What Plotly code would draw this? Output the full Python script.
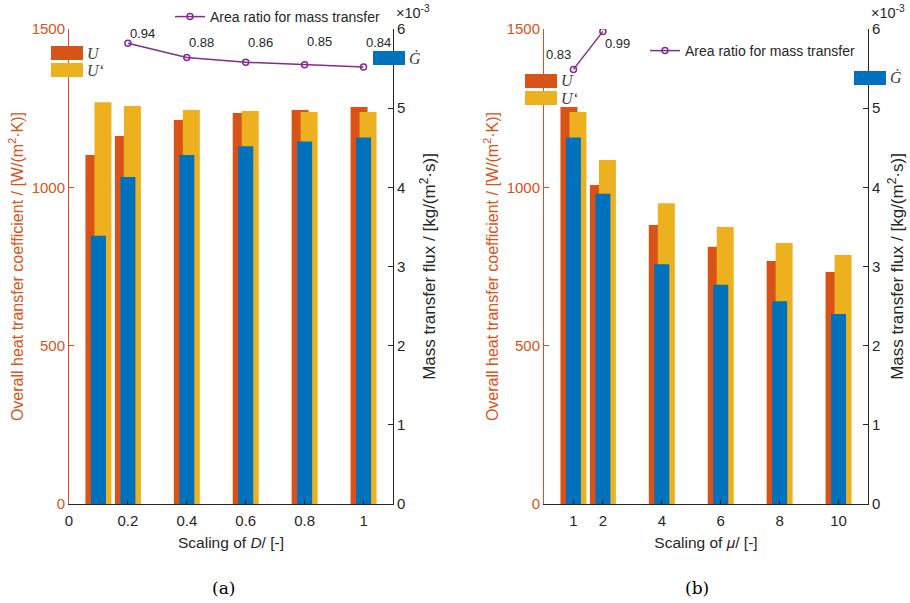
import plotly.graph_objects as go

# (a) scaling of the diffusion coefficient D
scale_d = [0.1, 0.2, 0.4, 0.6, 0.8, 1.0]
u_d = [1102, 1162, 1213, 1235, 1244, 1254]
u_prime_d = [1269, 1257, 1244, 1241, 1238, 1238]
g_d = [3.39e-3, 4.13e-3, 4.41e-3, 4.52e-3, 4.58e-3, 4.63e-3]
ratio_x_d = [0.2, 0.4, 0.6, 0.8, 1.0]
ratio_d = [0.94, 0.88, 0.86, 0.85, 0.84]

# (b) scaling of the viscosity mu
scale_mu = [1, 2, 4, 6, 8, 10]
u_mu = [1254, 1007, 881, 812, 767, 733]
u_prime_mu = [1238, 1086, 950, 875, 824, 786]
g_mu = [4.63e-3, 3.92e-3, 3.03e-3, 2.77e-3, 2.56e-3, 2.40e-3]
ratio_x_mu = [1, 2]
ratio_mu = [0.83, 0.99]

ticks_d = [0, 0.2, 0.4, 0.6, 0.8, 1]
ticks_mu = [1, 2, 4, 6, 8, 10]

ORANGE = "#D95319"
YELLOW = "#EDB120"
BLUE = "#0072BD"
PURPLE = "#7E2F8E"
DARK = "#262626"
FONT = "Liberation Sans"

W, H = 910, 603


def px(x):
    return x / W


def py(y):
    return 1 - y / H


fig = go.Figure()

panels = [
    dict(x="x", y="y", y2="y2", y3="y3", left=69, right=393, xr=[0, 1.1],
         xs=scale_d, u=u_d, up=u_prime_d, g=g_d, rx=ratio_x_d, r=ratio_d,
         legend="legend", ticks=ticks_d, xtitle="Scaling of <i>D</i>/ [-]",
         rstand=18),
    dict(x="x2", y="y4", y2="y5", y3="y6", left=544, right=868, xr=[0, 11],
         xs=scale_mu, u=u_mu, up=u_prime_mu, g=g_mu, rx=ratio_x_mu, r=ratio_mu,
         legend="legend2", ticks=ticks_mu, xtitle="Scaling of <i>μ</i>/ [-]",
         rstand=11),
]

for p in panels:
    k = (p["xr"][1] - p["xr"][0]) / (p["right"] - p["left"])  # data units per px
    wu = 17 * k
    wg = 15 * k
    sh = 4.5 * k
    fig.add_trace(go.Bar(x=p["xs"], y=p["u"], width=wu, offset=-wu / 2 - sh,
                         marker=dict(color=ORANGE, line=dict(width=0)),
                         xaxis=p["x"], yaxis=p["y"], showlegend=False))
    fig.add_trace(go.Bar(x=p["xs"], y=p["up"], width=wu, offset=-wu / 2 + sh,
                         marker=dict(color=YELLOW, line=dict(width=0)),
                         xaxis=p["x"], yaxis=p["y"], showlegend=False))
    fig.add_trace(go.Bar(x=p["xs"], y=p["g"], width=wg, offset=-wg / 2,
                         marker=dict(color=BLUE, line=dict(width=0)),
                         xaxis=p["x"], yaxis=p["y2"], showlegend=False))
    fig.add_trace(go.Scatter(x=p["rx"], y=p["r"], mode="lines+markers",
                             name="Area ratio for mass transfer",
                             line=dict(color=PURPLE, width=1.5),
                             marker=dict(symbol="circle-open", size=6,
                                         color=PURPLE, line=dict(width=1.5)),
                             xaxis=p["x"], yaxis=p["y3"], legend=p["legend"]))

layout = dict(
    width=W, height=H,
    margin=dict(l=0, r=0, t=0, b=0, autoexpand=False),
    plot_bgcolor="white", paper_bgcolor="white",
    barmode="overlay",
    font=dict(family=FONT, size=14, color=DARK),
)

ydom = [py(504), py(29)]
for i, p in enumerate(panels):
    xa = "xaxis" if i == 0 else "xaxis2"
    ya1 = "yaxis" if i == 0 else "yaxis4"
    ya2 = "yaxis2" if i == 0 else "yaxis5"
    ya3 = "yaxis3" if i == 0 else "yaxis6"
    layout[xa] = dict(
        domain=[px(p["left"]), px(p["right"])], range=p["xr"], anchor=p["y"],
        tickvals=p["ticks"], ticktext=[f"{t:g}" for t in p["ticks"]],
        ticks="inside", ticklen=4, tickcolor=DARK, showline=True, linecolor=DARK,
        linewidth=1, showgrid=False, zeroline=False, automargin=False,
        ticklabelstandoff=3,
        tickfont=dict(size=15, color=DARK),
        title=dict(text=p["xtitle"], font=dict(size=15.5, color=DARK), standoff=9),
    )
    layout[ya1] = dict(
        domain=ydom, range=[0, 1500], anchor=p["x"], tickvals=[0, 500, 1000, 1500],
        ticks="inside", ticklen=5, tickcolor=ORANGE, showline=True, linecolor=ORANGE,
        linewidth=1, showgrid=False, zeroline=False, automargin=False,
        tickfont=dict(size=15, color=ORANGE),
        title=dict(text="Overall heat transfer coefficient / [W/(m<sup>2</sup>·K)]",
                   font=dict(size=16, color=ORANGE), standoff=4),
    )
    layout[ya2] = dict(
        overlaying=p["y"], side="right", anchor=p["x"], range=[0, 6e-3],
        tickvals=[j * 1e-3 for j in range(7)], ticktext=[str(j) for j in range(7)],
        ticks="inside", ticklen=5, tickcolor=DARK, showline=True, linecolor=DARK,
        linewidth=1, showgrid=False, zeroline=False, automargin=False,
        tickfont=dict(size=15, color=DARK),
        title=dict(text="Mass transfer flux / [kg/(m<sup>2</sup>·s)]",
                   font=dict(size=17, color=DARK), standoff=p["rstand"]),
    )
    layout[ya3] = dict(overlaying=p["y"], anchor=p["x"], range=[-1, 1], visible=False)

layout["legend"] = dict(x=px(170), y=py(17), xanchor="left", yanchor="middle",
                        bgcolor="rgba(0,0,0,0)", font=dict(size=14, color=DARK),
                        itemwidth=30)
layout["legend2"] = dict(x=px(645), y=py(51), xanchor="left", yanchor="middle",
                         bgcolor="rgba(0,0,0,0)", font=dict(size=14, color=DARK),
                         itemwidth=30)
fig.update_layout(**layout)

# ratio value labels
label_style = [
    [("left", 10), ("left", 15), ("left", 20), ("left", 23), ("left", 25)],
    [("right", 15), ("left", -12)],
]
for p, styles in zip(panels, label_style):
    for xv, rv, (anchor, dy) in zip(p["rx"], p["r"], styles):
        fig.add_annotation(x=xv, y=rv, xref=p["x"], yref=p["y3"], text=f"{rv:.2f}",
                           showarrow=False, xanchor=anchor, yanchor="middle",
                           yshift=dy, font=dict(size=13, color=DARK))

# legend keys for bars (U, U', G-dot)
keys = [
    (51, 46, ORANGE, "U"), (51, 63, YELLOW, "U‘"), (373, 51, BLUE, "Ġ"),
    (525, 74, ORANGE, "U"), (525, 91, YELLOW, "U‘"), (854, 71, BLUE, "Ġ"),
]
for kx, ky, col, lab in keys:
    fig.add_shape(type="rect", xref="paper", yref="paper",
                  x0=px(kx), x1=px(kx + 32), y0=py(ky + 14), y1=py(ky),
                  fillcolor=col, line=dict(width=0), layer="above")
    fig.add_annotation(x=px(kx + 34), y=py(ky + 7), xref="paper", yref="paper",
                       text=f"<i>{lab}</i>", showarrow=False, xanchor="left",
                       yanchor="middle",
                       font=dict(family="Liberation Serif", size=16, color="#404040"))

# exponent labels and panel captions
for ex in (394, 869):
    fig.add_annotation(x=px(ex), y=py(1), xref="paper", yref="paper",
                       text="×10<sup>-3</sup>", showarrow=False, xanchor="left",
                       yanchor="top", font=dict(size=14.5, color=DARK))
for cx, cap in ((223, "(a)"), (697, "(b)")):
    fig.add_annotation(x=px(cx), y=py(588), xref="paper", yref="paper", text=cap,
                       showarrow=False, xanchor="center", yanchor="middle",
                       font=dict(family="DejaVu Serif", size=17, color="black"))

# drop the default page margin so the figure fills the window exactly
fig.write_html("out.html", config={"displayModeBar": False},
               post_script="document.body.style.margin='0';"
                           "document.body.style.overflow='hidden';")
